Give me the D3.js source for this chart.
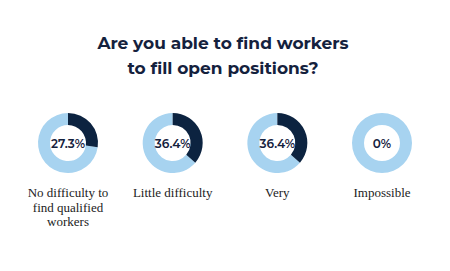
<!DOCTYPE html>
<html>
<head>
<meta charset="utf-8">
<script src="https://cdn.jsdelivr.net/npm/d3@7"></script>
<style>
  body { margin: 0; background: #fff; }
</style>
</head>
<body>
<script>
var width = 450,
    height = 271;

// chart data
var categories = ["No difficulty to find qualified workers", "Little difficulty", "Very", "Impossible"];
var labelLines = [["No difficulty to", "find qualified", "workers"], ["Little difficulty"], ["Very"], ["Impossible"]];
var values = [27.3, 36.4, 36.4, 0];
var valueLabels = ["27.3%", "36.4%", "36.4%", "0%"];
var title = ["Are you able to find workers", "to fill open positions?"];

var dark = "#0c2340",
    light = "#a7d3f0",
    ink = "#14213d";

var svg = d3.select("body")
    .append("svg")
    .attr("width", width)
    .attr("height", height);

svg.append("rect").attr("width", width).attr("height", height).attr("fill", "#fff");

svg.append("g")
    .selectAll("text")
    .data(title)
    .enter()
    .append("text")
    .attr("x", 223)
    .attr("y", (d, i) => 49 + i * 25)
    .attr("text-anchor", "middle")
    .attr("font-family", "Montserrat, Inter, 'Noto Sans', sans-serif")
    .attr("font-weight", 700)
    .attr("font-size", 17)
    .attr("fill", ink)
    .text(d => d);

var x = d3.scalePoint()
    .domain(categories)
    .range([68, 382]);

var cy = 143,
    outerR = 30,
    innerR = 18;

var pct = d3.scaleLinear().domain([0, 100]).range([0, 2 * Math.PI]);
var arc = d3.arc().innerRadius(innerR).outerRadius(outerR);

var groups = svg.selectAll("g.donut")
    .data(categories)
    .enter()
    .append("g")
    .attr("class", "donut")
    .attr("transform", d => "translate(" + x(d) + "," + cy + ")");

groups.append("path")
    .attr("fill", light)
    .attr("d", (d, i) => arc({startAngle: pct(values[i]), endAngle: 2 * Math.PI}));

groups.append("path")
    .attr("fill", dark)
    .attr("d", (d, i) => arc({startAngle: 0, endAngle: pct(values[i])}));

groups.append("text")
    .attr("text-anchor", "middle")
    .attr("dy", "0.4em")
    .attr("font-family", "Montserrat, Inter, 'Noto Sans', sans-serif")
    .attr("font-weight", 600)
    .attr("font-size", 12)
    .attr("fill", ink)
    .text((d, i) => valueLabels[i]);

groups.each(function(d, i) {
    var t = d3.select(this).append("text")
        .attr("text-anchor", "middle")
        .attr("font-family", "'Liberation Serif', 'DejaVu Serif', serif")
        .attr("font-size", 13)
        .attr("fill", "#222");
    t.selectAll("tspan")
        .data(labelLines[i])
        .enter()
        .append("tspan")
        .attr("x", 0)
        .attr("y", (l, j) => 54 + j * 14.5)
        .text(l => l);
});
</script>
</body>
</html>
